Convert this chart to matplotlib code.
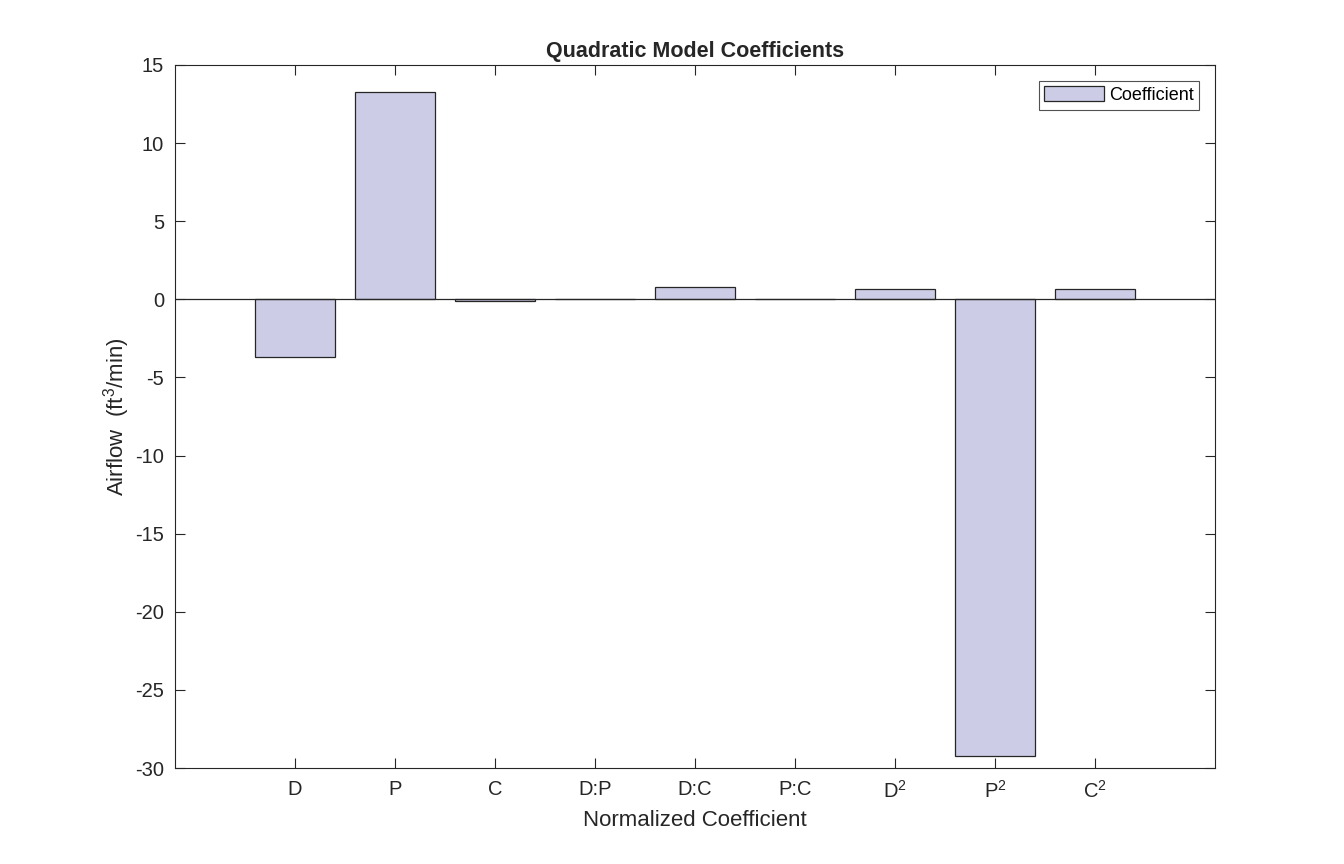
import numpy as np
import matplotlib
matplotlib.use('Agg')
import matplotlib.pyplot as plt

plt.rcParams['font.family'] = ['Liberation Sans', 'DejaVu Sans']
plt.rcParams['mathtext.default'] = 'regular'
plt.rcParams['axes.unicode_minus'] = False

names = ['D', 'P', 'C', 'D:P', 'D:C', 'P:C', 'D$^2$', 'P$^2$', 'C$^2$']
coef = [-3.67, 13.25, -0.13, 0.0, 0.78, 0.0, 0.65, -29.2, 0.65]

dark = '#262626'
face = '#CCCCE6'

fig = plt.figure(figsize=(13.44, 8.64), dpi=100)
ax = fig.add_axes([0.1302, 0.1111, 0.7738, 0.8137])

x = np.arange(1, len(names) + 1)
ax.bar(x, coef, width=0.8, color=face, edgecolor=dark, linewidth=0.9,
       label='Coefficient', zorder=2)
ax.axhline(0, color=dark, linewidth=0.9, zorder=3)

ax.set_xlim(-0.2, 10.2)
ax.set_ylim(-30, 15)
ax.set_xticks(x)
ax.set_xticklabels(names)
ax.set_yticks(np.arange(-30, 16, 5))

ax.tick_params(direction='in', top=True, right=True, length=7.2, width=0.8,
               colors=dark, labelsize=14.5)
ax.tick_params(axis='x', pad=8.5)
ax.tick_params(axis='y', pad=8)
for s in ax.spines.values():
    s.set_color(dark)
    s.set_linewidth(0.8)

ax.set_title('Quadratic Model Coefficients', fontsize=15.5, fontweight='bold',
             color=dark, pad=5.5)
ax.set_xlabel('Normalized Coefficient', fontsize=16, color=dark, labelpad=6)
ax.set_ylabel('Airflow  (ft$^3$/min)', fontsize=16, color=dark, labelpad=2)

leg = ax.legend(loc='upper right', fontsize=13, frameon=True, fancybox=False,
                borderpad=0.3, handlelength=3.3, handleheight=0.9,
                handletextpad=0.28, borderaxespad=0,
                bbox_to_anchor=(1 - 16 / 1040, 1 - 16 / 703))
leg.get_frame().set_edgecolor(dark)
leg.get_frame().set_linewidth(0.8)

fig.savefig('out.png', dpi=100)
